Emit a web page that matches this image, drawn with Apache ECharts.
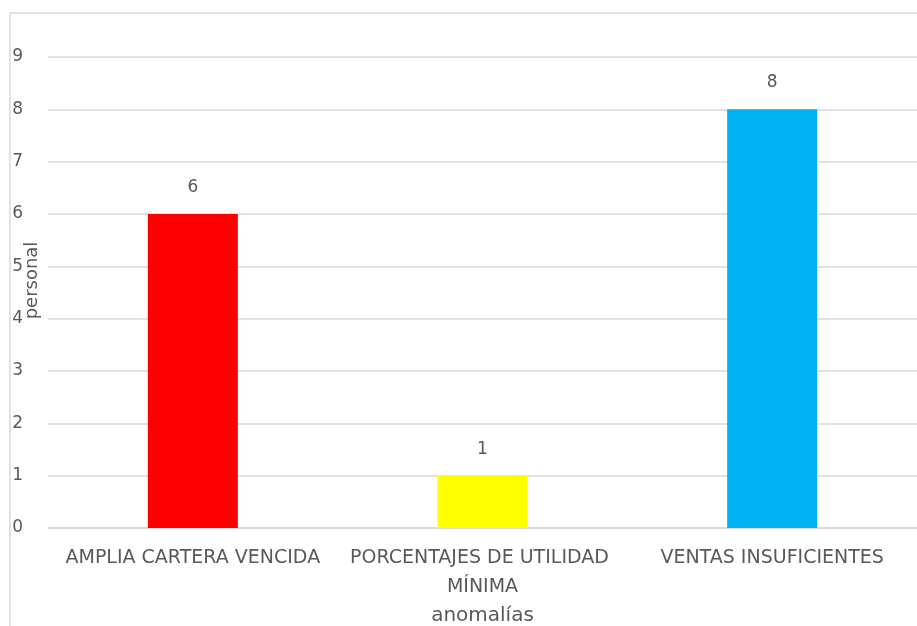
<!DOCTYPE html>
<html>
<head>
<meta charset="utf-8">
<script src="https://cdn.jsdelivr.net/npm/echarts@6/dist/echarts.min.js"></script>
<style>
  html, body { margin: 0; padding: 0; background: #fff; }
  #chart { width: 917px; height: 626px; }
</style>
</head>
<body>
<div id="chart"></div>
<script>
// datos
var categorias = ['AMPLIA CARTERA VENCIDA', 'PORCENTAJES DE UTILIDAD MÍNIMA', 'VENTAS INSUFICIENTES'];
var personal = [6, 1, 8];
var colores = ['#FF0000', '#FFFF00', '#00B0F0'];
var yTicks = [0, 1, 2, 3, 4, 5, 6, 7, 8, 9];

var textColor = '#595959';
var fuente = '"DejaVu Sans", "Open Sans", sans-serif';

var myChart = echarts.init(document.getElementById('chart'));

var option = {
    backgroundColor: '#ffffff',
    animation: false,
    textStyle: { fontFamily: fuente },
    graphic: [{
        type: 'rect',
        shape: { x: 10, y: 13, width: 1000, height: 700 },
        style: { fill: 'none', stroke: '#d9d9d9', lineWidth: 1.5 },
        silent: true
    }],
    grid: {
        left: 48,
        right: 0,
        top: 57,
        bottom: 98,
        outerBoundsMode: 'none',
        containLabel: false
    },
    xAxis: {
        type: 'category',
        data: categorias,
        name: 'anomalías',
        nameLocation: 'middle',
        nameGap: 78,
        nameMoveOverlap: false,
        nameTextStyle: { color: textColor, fontSize: 20, fontFamily: fuente },
        axisTick: { show: false },
        axisLine: { lineStyle: { color: '#d9d9d9', width: 1.5 } },
        axisLabel: {
            interval: 0,
            color: textColor,
            fontSize: 19,
            fontFamily: fuente,
            margin: 16,
            lineHeight: 29,
            width: 285,
            overflow: 'break'
        }
    },
    yAxis: {
        type: 'value',
        min: yTicks[0],
        max: yTicks[yTicks.length - 1],
        interval: 1,
        name: 'personal',
        nameLocation: 'middle',
        nameGap: 7,
        nameMoveOverlap: false,
        nameTextStyle: { color: textColor, fontSize: 18, fontFamily: fuente, padding: [0, 0, 0, 24] },
        axisLine: { show: false },
        axisTick: { show: false },
        splitLine: { lineStyle: { color: '#d9d9d9', width: 1.5 } },
        axisLabel: { color: textColor, fontSize: 17, fontFamily: fuente, margin: 25 }
    },
    series: [{
        type: 'bar',
        barWidth: 90,
        data: personal.map(function (v, i) {
            return { value: v, itemStyle: { color: colores[i] } };
        }),
        label: {
            show: true,
            position: 'top',
            distance: 18,
            color: textColor,
            fontSize: 17,
            fontFamily: fuente
        }
    }]
};

myChart.setOption(option);
</script>
</body>
</html>
